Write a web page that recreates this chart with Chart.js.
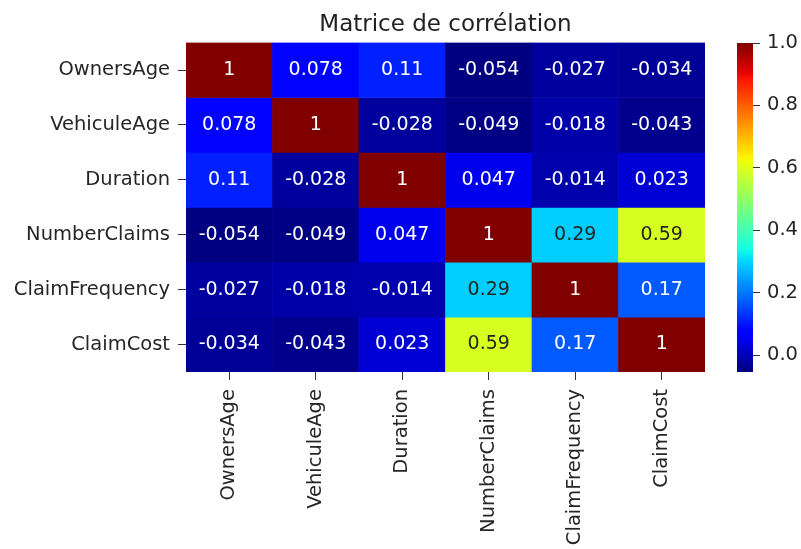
<!DOCTYPE html>
<html>
<head>
<meta charset="utf-8">
<script src="https://cdn.jsdelivr.net/npm/chart.js@4/dist/chart.umd.min.js"></script>
<style>
  html, body { margin: 0; padding: 0; background: #ffffff; }
  canvas { position: absolute; left: 0; top: 0; }
</style>
</head>
<body>
<canvas id="heat" width="801" height="549"></canvas>
<canvas id="cbar" width="801" height="549"></canvas>
<script>
// ---- Data ----
const variables = ['OwnersAge', 'VehiculeAge', 'Duration', 'NumberClaims', 'ClaimFrequency', 'ClaimCost'];
const ownersAge      = [1, 0.078, 0.11, -0.054, -0.027, -0.034];
const vehiculeAge    = [0.078, 1, -0.028, -0.049, -0.018, -0.043];
const duration       = [0.11, -0.028, 1, 0.047, -0.014, 0.023];
const numberClaims   = [-0.054, -0.049, 0.047, 1, 0.29, 0.59];
const claimFrequency = [-0.027, -0.018, -0.014, 0.29, 1, 0.17];
const claimCost      = [-0.034, -0.043, 0.023, 0.59, 0.17, 1];
const colorbarTicks  = [0.0, 0.2, 0.4, 0.6, 0.8, 1.0];
const vmin = -0.0544, vmax = 1.0;

const rows = [ownersAge, vehiculeAge, duration, numberClaims, claimFrequency, claimCost];

// ---- jet colormap (matplotlib segment data) ----
function interp(seg, t) {
  for (let i = 1; i < seg.length; i++) {
    if (t <= seg[i][0]) {
      const [x0, y0] = seg[i - 1], [x1, y1] = seg[i];
      return y0 + (y1 - y0) * (t - x0) / (x1 - x0);
    }
  }
  return seg[seg.length - 1][1];
}
const JR = [[0, 0], [0.35, 0], [0.66, 1], [0.89, 1], [1, 0.5]];
const JG = [[0, 0], [0.125, 0], [0.375, 1], [0.64, 1], [0.91, 0], [1, 0]];
const JB = [[0, 0.5], [0.11, 1], [0.34, 1], [0.65, 0], [1, 0]];
function jetRGB(t) {
  t = Math.max(0, Math.min(1, t));
  return [interp(JR, t), interp(JG, t), interp(JB, t)].map(c => Math.round(c * 255));
}
function norm(v) { return (v - vmin) / (vmax - vmin); }
function rgbStr(c) { return `rgb(${c[0]},${c[1]},${c[2]})`; }
function textColor(c) {
  const l = c.map(x => { x /= 255; return x <= 0.03928 ? x / 12.92 : Math.pow((x + 0.055) / 1.055, 2.4); });
  const lum = 0.2126 * l[0] + 0.7152 * l[1] + 0.0722 * l[2];
  return lum > 0.408 ? '#262626' : '#ffffff';
}

Chart.defaults.font.family = "'DejaVu Sans', sans-serif";
Chart.defaults.color = '#262626';

const N = variables.length;
const datasets = rows.map((row, i) => ({
  label: variables[i],
  data: row.map(() => [N - 1 - i, N - i]),
  values: row,
  backgroundColor: row.map(v => rgbStr(jetRGB(norm(v)))),
  borderWidth: 0,
  grouped: false,
  barPercentage: 1,
  categoryPercentage: 1
}));

const annotate = {
  id: 'annotate',
  afterDatasetsDraw(chart) {
    const ctx = chart.ctx;
    ctx.save();
    ctx.font = "19px 'DejaVu Sans'";
    ctx.textAlign = 'center';
    ctx.textBaseline = 'middle';
    chart.data.datasets.forEach((ds, i) => {
      const meta = chart.getDatasetMeta(i);
      meta.data.forEach((el, j) => {
        const v = ds.values[j];
        ctx.fillStyle = textColor(jetRGB(norm(v)));
        ctx.fillText(String(v), el.x, (el.y + el.base) / 2);
      });
    });
    ctx.restore();
  }
};

new Chart(document.getElementById('heat'), {
  type: 'bar',
  data: { labels: variables, datasets },
  plugins: [annotate],
  options: {
    responsive: false,
    animation: false,
    layout: { padding: { left: 0, right: 96, top: 0, bottom: 0 } },
    plugins: {
      legend: { display: false },
      tooltip: { enabled: false },
      title: {
        display: true,
        text: 'Matrice de corrélation',
        fullSize: false,
        color: '#222222',
        font: { size: 23, weight: 'normal' },
        padding: { top: 11, bottom: 4 }
      }
    },
    scales: {
      x: {
        type: 'category',
        offset: true,
        grid: { display: true, offset: false, drawOnChartArea: false, drawTicks: true, tickLength: 8, color: '#333333' },
        border: { display: false },
        ticks: { maxRotation: 90, minRotation: 90, padding: 9, font: { size: 19.5 }, color: '#262626' },
        afterFit(scale) { scale.height = 177; }
      },
      y: {
        type: 'linear',
        min: 0,
        max: N,
        grid: { display: true, drawOnChartArea: false, drawTicks: true, tickLength: 8, color: '#333333' },
        border: { display: false },
        afterBuildTicks(scale) { scale.ticks = variables.map((_, i) => ({ value: N - i - 0.5 })); },
        ticks: {
          padding: 8,
          font: { size: 19.5 },
          color: '#262626',
          autoSkip: false,
          callback: (v) => variables[N - 1 - Math.floor(v)]
        },
        afterFit(scale) { scale.width = 186; }
      }
    }
  }
});

// ---- Colorbar ----
new Chart(document.getElementById('cbar'), {
  type: 'bar',
  data: {
    labels: [''],
    datasets: [{
      data: [[vmin, vmax]],
      borderWidth: 0,
      barPercentage: 1,
      categoryPercentage: 1,
      backgroundColor(context) {
        const ca = context.chart.chartArea;
        if (!ca) return 'rgb(0,0,128)';
        const g = context.chart.ctx.createLinearGradient(0, ca.bottom, 0, ca.top);
        for (let k = 0; k <= 64; k++) {
          const t = k / 64;
          g.addColorStop(t, rgbStr(jetRGB(t)));
        }
        return g;
      }
    }]
  },
  options: {
    responsive: false,
    animation: false,
    layout: { padding: { left: 737, right: 0, top: 43, bottom: 177 } },
    plugins: { legend: { display: false }, tooltip: { enabled: false }, title: { display: false } },
    scales: {
      x: { display: false, offset: true },
      y: {
        type: 'linear',
        position: 'right',
        min: vmin,
        max: vmax,
        grid: { display: true, drawOnChartArea: false, drawTicks: true, tickLength: 7, color: '#333333' },
        border: { display: false },
        afterBuildTicks(scale) { scale.ticks = colorbarTicks.map(v => ({ value: v })); },
        ticks: { padding: 7, font: { size: 19.5 }, color: '#262626', callback: (v) => Number(v).toFixed(1) },
        afterFit(scale) { scale.width = 48; }
      }
    }
  }
});
</script>
</body>
</html>
